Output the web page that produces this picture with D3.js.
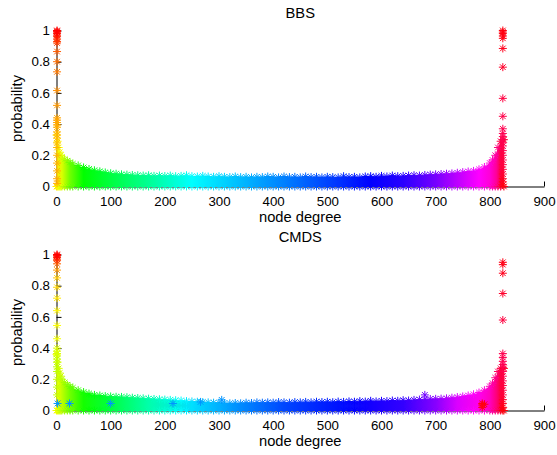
<!DOCTYPE html>
<html>
<head>
<meta charset="utf-8">
<script src="https://cdn.jsdelivr.net/npm/d3@7"></script>
<style>
  html, body { margin: 0; padding: 0; background: #fff; }
  svg { display: block; }
  text { font-family: "Liberation Sans", Arial, Helvetica, sans-serif; fill: #000; }
</style>
</head>
<body>
<svg id="chart" width="557" height="455"></svg>
<script>
// ---------------- DATA ----------------
const xTicks = [0, 100, 200, 300, 400, 500, 600, 700, 800, 900];
const yTicks = [0, 0.2, 0.4, 0.6, 0.8, 1];
const titles = ["BBS", "CMDS"];
const xLabel = "node degree";
const yLabel = "probability";

// degrees at which the upper edge of the dense band was read
const bandDegree = [0,2,4,6,8,10,15,20,25,30,
  40,50,60,70,80,90,100,110,120,130,
  140,150,160,170,180,190,200,210,220,230,
  240,250,260,270,280,290,300,310,320,330,
  340,350,360,370,380,390,400,410,420,430,
  440,450,460,470,480,490,500,510,520,530,
  540,550,560,570,580,590,600,610,620,630,
  640,650,660,670,680,690,700,710,720,730,
  740,750,760,770,780,790,800,805,810,815,820,826];

const bbsBandUpper = [0.33,0.29,0.25,0.22,0.2,0.19,0.175,0.165,0.155,0.145,
  0.135,0.122,0.112,0.104,0.097,0.09,0.085,0.082,0.078,0.076,
  0.074,0.072,0.07,0.072,0.068,0.07,0.067,0.07,0.066,0.068,
  0.072,0.066,0.064,0.068,0.064,0.062,0.066,0.062,0.06,0.064,
  0.06,0.062,0.058,0.062,0.06,0.064,0.062,0.058,0.064,0.06,
  0.062,0.058,0.064,0.06,0.062,0.058,0.062,0.06,0.058,0.066,
  0.06,0.062,0.058,0.064,0.066,0.062,0.068,0.064,0.07,0.066,
  0.068,0.07,0.072,0.07,0.074,0.076,0.078,0.08,0.082,0.084,
  0.088,0.092,0.096,0.1,0.11,0.125,0.15,0.17,0.2,0.25,0.29,0.3];

const cmdsBandUpper = [0.36,0.31,0.27,0.24,0.22,0.2,0.18,0.165,0.155,0.145,
  0.13,0.118,0.108,0.1,0.096,0.092,0.09,0.088,0.087,0.085,
  0.082,0.08,0.078,0.076,0.074,0.072,0.07,0.068,0.066,0.064,
  0.06,0.058,0.056,0.054,0.052,0.05,0.05,0.048,0.046,0.048,
  0.046,0.05,0.048,0.052,0.05,0.052,0.05,0.054,0.052,0.05,
  0.054,0.052,0.055,0.052,0.056,0.054,0.056,0.053,0.057,0.055,
  0.058,0.056,0.06,0.057,0.062,0.058,0.062,0.06,0.064,0.062,
  0.066,0.064,0.068,0.07,0.072,0.074,0.075,0.076,0.078,0.082,
  0.086,0.09,0.096,0.104,0.115,0.13,0.155,0.175,0.21,0.25,0.27,0.27];

// isolated points in the two vertical columns (degree ~1 and ~824)
const bbsLeftDegree = 1;
const bbsLeftProb = [1.0,0.995,0.99,0.98,0.97,0.96,0.945,0.93,0.92,0.865,0.80,0.735,0.615,0.52,
  0.44,0.425,0.41,0.395,0.38,0.35,0.33,0.31,0.28,0.25,0.2,0.15,0.1,0.05,0.02];
const bbsRightDegree = 824;
const bbsRightProb = [1.0,0.99,0.98,0.965,0.95,0.885,0.765,0.565,0.45,0.37,0.34,0.32,0.3,0.28,
  0.26,0.23,0.2,0.17,0.14,0.11,0.08,0.05,0.03,0.01];

const cmdsLeftDegree = 1;
const cmdsLeftProb = [1.0,0.995,0.99,0.98,0.97,0.96,0.94,0.9,0.85,0.79,0.72,0.64,0.545,0.46,
  0.4,0.38,0.365,0.35,0.33,0.31,0.28,0.25,0.2,0.15,0.1];
const cmdsRightDegree = 824;
const cmdsRightProb = [0.95,0.935,0.88,0.75,0.58,0.365,0.34,0.315,0.295,0.275,0.25,0.22,0.19,
  0.16,0.13,0.1,0.07,0.045,0.02,0.0];

// scattered outliers in CMDS (degree, probability, colormap position)
const cmdsOutDegree = [2,24,100,215,266,305,680,786,786,786,790];
const cmdsOutProb = [0.045,0.045,0.045,0.045,0.055,0.068,0.1,0.045,0.035,0.02,0.04];
const cmdsOutCmap = [0.57,0.57,0.57,0.57,0.57,0.57,0.74,0.99,0.99,0.99,0.99];

// hsv colormap position along degree
const cmapDegree = [0,10,25,50,100,170,250,330,420,520,580,640,700,740,780,800,812,820,826];
const bbsCmap =  [0.153,0.19,0.26,0.333,0.375,0.43,0.5,0.54,0.583,0.633,0.667,0.694,0.744,0.79,0.833,0.86,0.9,0.955,0.985];
const cmdsCmap = [0.172,0.21,0.26,0.32,0.375,0.445,0.52,0.57,0.62,0.655,0.68,0.7,0.755,0.81,0.845,0.875,0.92,0.96,0.985];

// colormap position vs probability for the vertical columns
const leftProbStops = [0,0.3,0.45,0.65,0.85,0.93,1];
const bbsLeftCmap =  [0.11,0.125,0.105,0.09,0.065,0.04,0.0];
const cmdsLeftCmap = [0.2,0.21,0.175,0.16,0.13,0.08,0.0];
const rightProbStops = [0,0.1,0.3,0.6,1];
const rightCmap = [0.995,0.96,0.945,0.96,0.99];

// ---------------- DRAW ----------------
const svg = d3.select("#chart");
const hsv = t => d3.hsl(((t % 1) + 1) % 1 * 360, 1, 0.5).formatHex();

const x = d3.scaleLinear().domain([0, 900]).range([56.5, 544]);

const panels = [
  { title: titles[0], top: 30.5, bottom: 186.5, upper: bbsBandUpper, cmap: bbsCmap,
    leftProb: bbsLeftProb, leftDeg: bbsLeftDegree, leftCmap: bbsLeftCmap,
    rightProb: bbsRightProb, rightDeg: bbsRightDegree, outliers: [] },
  { title: titles[1], top: 254.5, bottom: 410.5, upper: cmdsBandUpper, cmap: cmdsCmap,
    leftProb: cmdsLeftProb, leftDeg: cmdsLeftDegree, leftCmap: cmdsLeftCmap,
    rightProb: cmdsRightProb, rightDeg: cmdsRightDegree,
    outliers: cmdsOutDegree.map((d, i) => ({ d, p: cmdsOutProb[i], c: cmdsOutCmap[i] })) }
];

// MATLAB-like '*' marker: plus + cross
const R = 4;
const starPath = (() => {
  const r = R, q = R * 0.7071;
  return `M${-r},0L${r},0M0,${-r}L0,${r}M${-q},${-q}L${q},${q}M${-q},${q}L${q},${-q}`;
})();

const defs = svg.append("defs");

panels.forEach((P, pi) => {
  const y = d3.scaleLinear().domain([0, 1]).range([P.bottom, P.top]);
  const g = svg.append("g");
  const degColor = d3.scaleLinear().domain(cmapDegree).range(P.cmap).clamp(true);

  // axes (drawn under the data)
  const xa = d3.axisBottom(x).tickValues(xTicks).tickFormat(d => String(d))
    .tickSizeInner(-5).tickSizeOuter(0).tickPadding(10);
  const gx = g.append("g").attr("transform", `translate(0,${P.bottom})`).call(xa);
  const ya = d3.axisLeft(y).tickValues(yTicks).tickFormat(d => String(d))
    .tickSizeInner(-5).tickSizeOuter(0).tickPadding(6.5);
  const gy = g.append("g").attr("transform", `translate(${x(0)},0)`).call(ya);
  [gx, gy].forEach(a => {
    a.selectAll("path.domain").attr("stroke", "#000").attr("stroke-width", 1);
    a.selectAll(".tick line").attr("stroke", "#000").attr("stroke-width", 1);
    a.selectAll(".tick text").style("font-family", "'Liberation Sans', Arial, sans-serif")
      .style("font-size", "13.3px").attr("fill", "#000");
  });

  // gradient for the dense band
  const gid = "grad" + pi;
  const grad = defs.append("linearGradient").attr("id", gid)
    .attr("gradientUnits", "userSpaceOnUse")
    .attr("x1", x(0)).attr("x2", x(826)).attr("y1", 0).attr("y2", 0);
  cmapDegree.forEach((d, i) => {
    grad.append("stop").attr("offset", d / 826).attr("stop-color", hsv(P.cmap[i]));
  });

  const band = bandDegree.map((d, i) => ({ d, p: P.upper[i] }));
  const area = d3.area().x(v => x(v.d)).y0(y(0)).y1(v => y(v.p)).curve(d3.curveLinear);
  g.append("path").datum(band).attr("d", area).attr("fill", `url(#${gid})`);

  // markers on the upper edge and along zero of the band
  const markers = g.append("g").attr("fill", "none").attr("stroke-width", 1);
  band.forEach(v => {
    markers.append("path").attr("d", starPath)
      .attr("transform", `translate(${x(v.d)},${y(v.p)})`).attr("stroke", hsv(degColor(v.d)));
    markers.append("path").attr("d", starPath)
      .attr("transform", `translate(${x(v.d)},${y(0)})`).attr("stroke", hsv(degColor(v.d)));
  });

  // left column
  const leftC = d3.scaleLinear().domain(leftProbStops).range(P.leftCmap).clamp(true);
  P.leftProb.slice().reverse().forEach(p => {
    markers.append("path").attr("d", starPath)
      .attr("transform", `translate(${x(P.leftDeg)},${y(p)})`).attr("stroke", hsv(leftC(p)));
  });
  // right column
  const rightC = d3.scaleLinear().domain(rightProbStops).range(rightCmap).clamp(true);
  P.rightProb.slice().reverse().forEach(p => {
    markers.append("path").attr("d", starPath)
      .attr("transform", `translate(${x(P.rightDeg)},${y(p)})`).attr("stroke", hsv(rightC(p)));
  });
  // outliers
  P.outliers.forEach(o => {
    markers.append("path").attr("d", starPath)
      .attr("transform", `translate(${x(o.d)},${y(o.p)})`).attr("stroke", hsv(o.c));
  });

  // labels
  const cx = (x(0) + x(900)) / 2;
  g.append("text").attr("x", cx).attr("y", P.top - 13).attr("text-anchor", "middle")
    .style("font-size", "14.7px").text(P.title);
  g.append("text").attr("x", cx).attr("y", P.bottom + 35).attr("text-anchor", "middle")
    .style("font-size", "14.7px").text(xLabel);
  g.append("text").attr("transform", `translate(22,${(P.top + P.bottom) / 2}) rotate(-90)`)
    .attr("text-anchor", "middle").style("font-size", "14.7px").text(yLabel);
});
</script>
</body>
</html>
